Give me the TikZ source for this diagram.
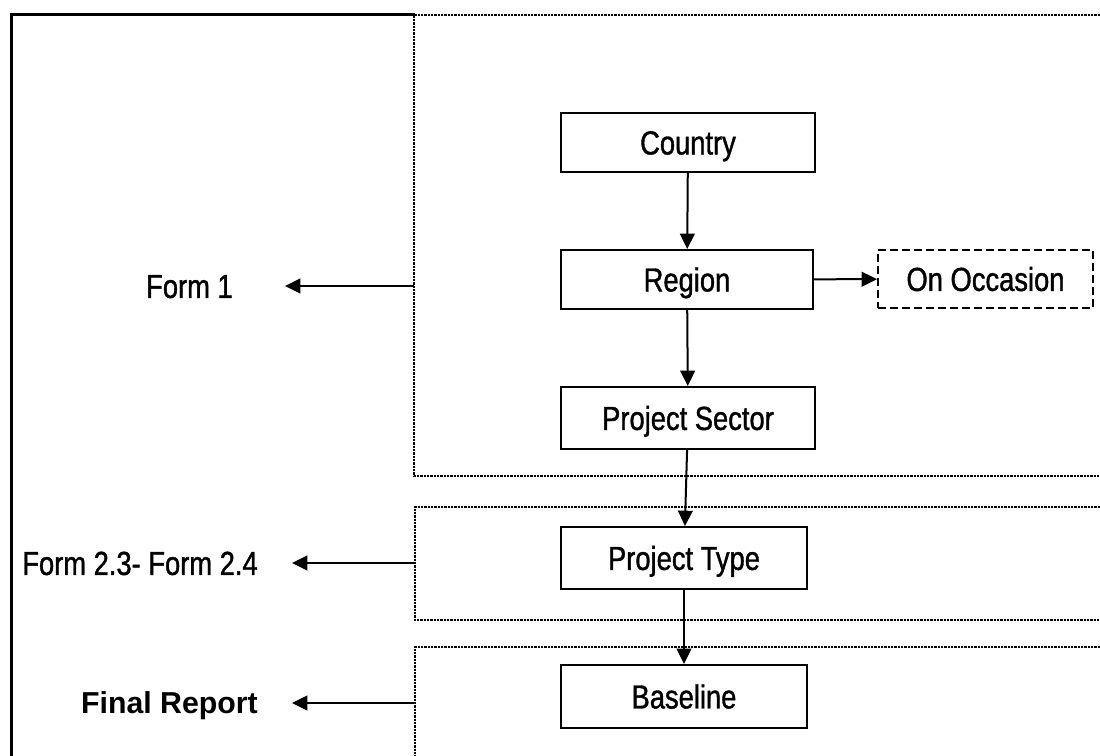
\documentclass[tikz,border=0pt]{standalone}
\usepackage{fontspec}
\setmainfont{Liberation Sans}
\newfontfamily\narrowsans[FakeStretch=0.82, FakeBold=1.1]{Liberation Sans}
\usetikzlibrary{arrows.meta}
\begin{document}
\begin{tikzpicture}[x=0.75pt, y=-0.75pt,
  boxfont/.style={font=\narrowsans\fontsize{25}{29}\selectfont, text height=17.9pt, text depth=0pt},
  stepbox/.style={boxfont, draw, line width=1.5pt, inner sep=0pt},
  optbox/.style={stepbox, dash pattern=on 6pt off 3pt},
  formlabel/.style={boxfont, anchor=east, inner ysep=0pt},
  reportlabel/.style={font=\bfseries\fontsize{22.7}{26}\selectfont, text height=16.2pt, text depth=0pt, anchor=east, inner ysep=0pt},
  flow/.style={line width=1.5pt, -{Triangle[length=11.5pt,width=11pt]}},
  zone/.style={line width=2.2pt, dash pattern=on 1.8pt off 0.7pt},
  frame/.style={line width=2.25pt}
]
\useasboundingbox (0,0) rectangle (1100,756);
\clip (0,0) rectangle (1100,756);

% outer frame and the three grouping zones
\draw[frame] (415,15) -- (11,15) -- (11,780);
\draw[zone] (1120,15) -- (414,15) -- (414,476) -- (1120,476);
\draw[zone] (1120,507) -- (415,507) -- (415,620) -- (1120,620);
\draw[zone] (1120,647) -- (415,647) -- (415,780);

% flow boxes
\node[stepbox, minimum width=190.5pt, minimum height=44.25pt] (country) at (688,142.5) {Country};
\node[stepbox, minimum width=189pt, minimum height=44.25pt] (region) at (687,279.5) {Region};
\node[optbox, minimum width=161.25pt, minimum height=43.5pt] (occasion) at (985.5,279) {On Occasion};
\node[stepbox, minimum width=190.5pt, minimum height=46.5pt] (sector) at (688,418) {Project Sector};
\node[stepbox, minimum width=184.5pt, minimum height=46.5pt] (ptype) at (684,558) {Project Type};
\node[stepbox, minimum width=184.5pt, minimum height=47.25pt] (baseline) at (684,696.5) {Baseline};

\draw[flow] (country) -- (region);
\draw[flow] (region) -- (occasion);
\draw[flow] (region) -- (sector);
\draw[flow] (sector) -- (ptype);
\draw[flow] (ptype) -- (baseline);

% zone outputs
\coordinate (z1) at (414,286);
\coordinate (z2) at (415,563);
\coordinate (z3) at (415,703);
\node[formlabel, inner xsep=39pt] (form1) at (285,286) {Form 1};
\node[formlabel, inner xsep=25.5pt] (form2) at (292,563) {Form 2.3- Form 2.4};
\node[reportlabel, inner xsep=25.5pt] (report) at (292,703) {Final Report};

\draw[flow] (z1) -- (form1.east);
\draw[flow] (z2) -- (form2.east);
\draw[flow] (z3) -- (report.east);
\end{tikzpicture}
\end{document}
